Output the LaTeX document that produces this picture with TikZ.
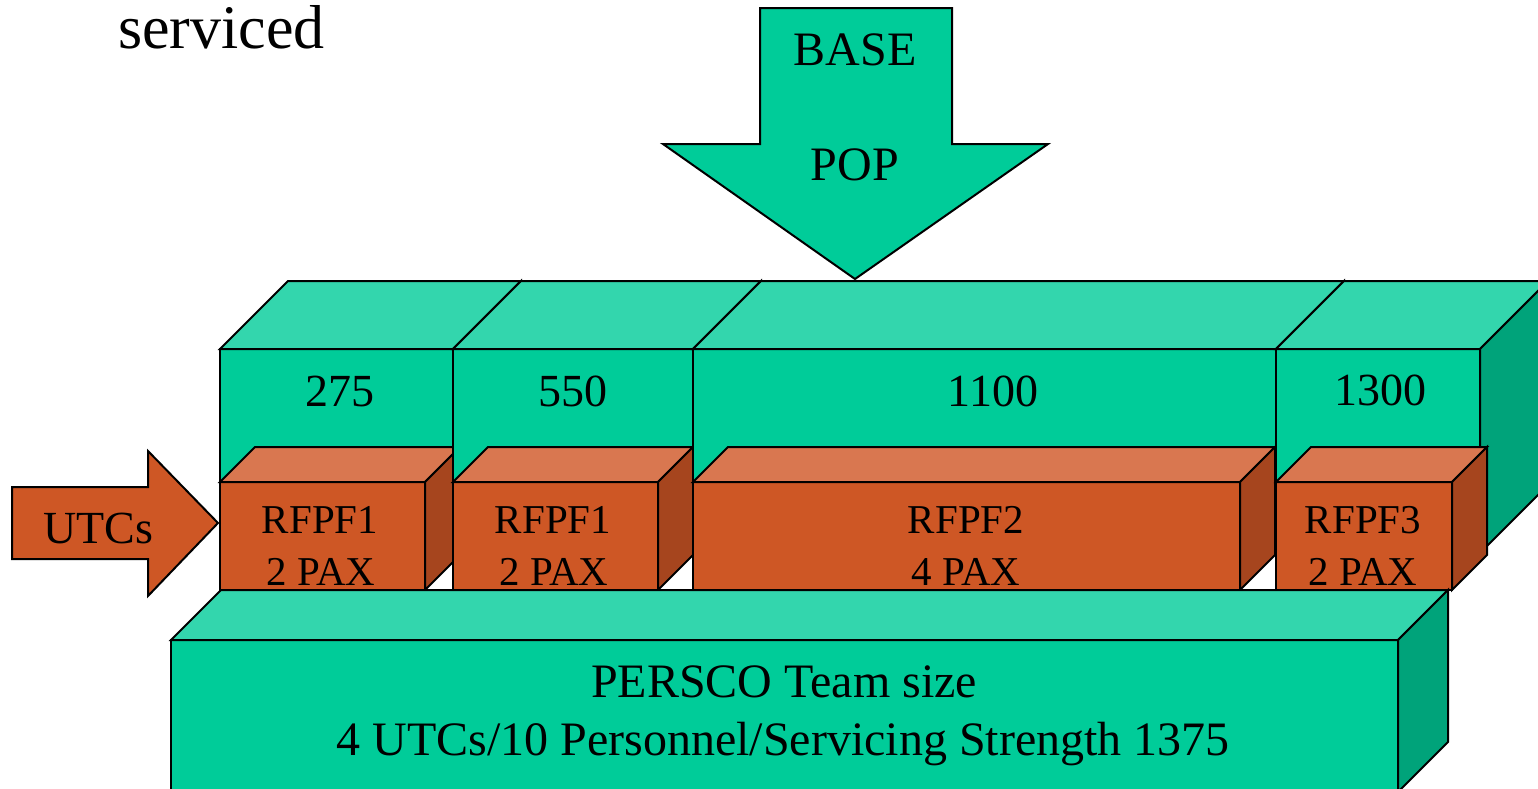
\documentclass[tikz,border=0pt]{standalone}
\usepackage{fontspec}
\setmainfont{Liberation Serif}
\definecolor{tealF}{RGB}{0,204,153}
\definecolor{tealT}{RGB}{51,214,173}
\definecolor{tealS}{RGB}{0,163,122}
\definecolor{orgF}{RGB}{206,87,37}
\definecolor{orgT}{RGB}{217,119,80}
\definecolor{orgS}{RGB}{166,69,30}
% #1 x1, #2 x2, #3 ytop, #4 ybottom, #5 depth, #6 front, #7 top, #8 side
\newcommand\mycube[8]{%
  \filldraw[fill=#6] (#1,#3) rectangle (#2,#4);
  \filldraw[fill=#7] (#1,#3) -- (#1+#5,#3-#5) -- (#2+#5,#3-#5) -- (#2,#3) -- cycle;
  \filldraw[fill=#8] (#2,#3) -- (#2+#5,#3-#5) -- (#2+#5,#4-#5) -- (#2,#4) -- cycle;
}
\tikzset{
  lbl/.style={inner sep=0pt, anchor=base, font=\fontsize{23pt}{28pt}\selectfont},
  lblsm/.style={inner sep=0pt, anchor=base, font=\fontsize{20.5pt}{25pt}\selectfont},
  lblbig/.style={inner sep=0pt, anchor=base, font=\fontsize{24pt}{29pt}\selectfont},
}
\begin{document}
\begin{tikzpicture}[x=0.5pt,y=-0.5pt,line width=1pt,line join=miter]
\useasboundingbox (0,0) rectangle (1538,788);
\clip (0,0) rectangle (1538,788);
% title fragment
\node[inner sep=0pt, anchor=base west, font=\fontsize{31pt}{37pt}\selectfont] (title) at (117,48) {serviced};
% teal and orange boxes
\mycube{220}{453}{349}{553}{68}{tealF}{tealT}{tealS}
\mycube{220}{425}{482}{590}{35}{orgF}{orgT}{orgS}
\mycube{453}{693}{349}{553}{68}{tealF}{tealT}{tealS}
\mycube{453}{658}{482}{590}{35}{orgF}{orgT}{orgS}
\mycube{693}{1276}{349}{553}{68}{tealF}{tealT}{tealS}
\mycube{693}{1240}{482}{590}{35}{orgF}{orgT}{orgS}
\mycube{1276}{1480}{349}{553}{68}{tealF}{tealT}{tealS}
\mycube{1276}{1452}{482}{590}{35}{orgF}{orgT}{orgS}
% PERSCO box
\mycube{171}{1398}{640}{792}{50}{tealF}{tealT}{tealS}
% BASE POP arrow
\filldraw[fill=tealF] (760,8) -- (952,8) -- (952,144) -- (1048,144) -- (855,279) -- (663,144) -- (760,144) -- cycle;
% UTCs arrow
\filldraw[fill=orgF] (12,487) -- (148,487) -- (148,451) -- (218,523) -- (148,596) -- (148,559) -- (12,559) -- cycle;
% labels
\node[lblbig] (base) at (855,65) {BASE};
\node[lblbig] (pop) at (855,180) {POP};
\node[lbl] (n1) at (340,406) {275};
\node[lbl] (n2) at (573,406) {550};
\node[lbl] (n3) at (993,406) {1100};
\node[lbl] (n4) at (1380,405) {1300};
\node[lblsm] (r1a) at (320,533) {RFPF1};
\node[lblsm] (r1b) at (321,585) {2 PAX};
\node[lblsm] (r2a) at (553,533) {RFPF1};
\node[lblsm] (r2b) at (554,585) {2 PAX};
\node[lblsm] (r3a) at (966,533) {RFPF2};
\node[lblsm] (r3b) at (966,585) {4 PAX};
\node[lblsm] (r4a) at (1363,533) {RFPF3};
\node[lblsm] (r4b) at (1363,585) {2 PAX};
\node[lbl] (utc) at (98,543) {UTCs};
\node[lblbig] (p1) at (784,697) {PERSCO Team size};
\node[lblbig] (p2) at (783,755) {4 UTCs/10 Personnel/Servicing Strength 1375};
\end{tikzpicture}
\end{document}
